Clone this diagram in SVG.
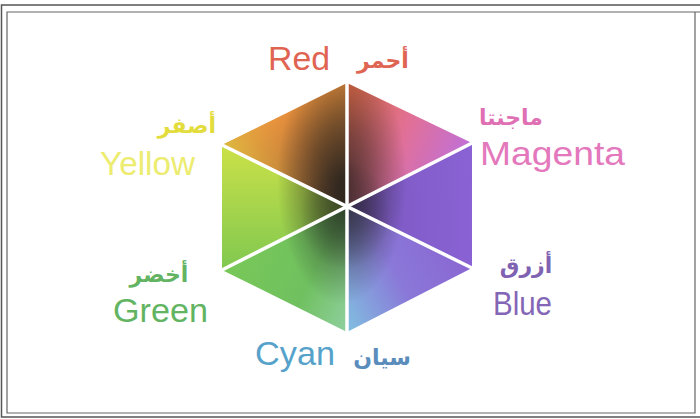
<svg xmlns="http://www.w3.org/2000/svg" width="700" height="419" viewBox="0 0 700 419">
<style>
.en{font-family:"Liberation Sans",Arial,sans-serif;font-size:34px;}
.ar{font-family:"DejaVu Sans","Noto Sans",sans-serif;font-weight:bold;font-size:22px;text-anchor:middle;}
.sep{stroke:#ffffff;stroke-width:3.5;stroke-linecap:round;}
</style>
<defs>
<linearGradient id="g1" x1="284" y1="114" x2="347" y2="207" gradientUnits="userSpaceOnUse"><stop offset="0" stop-color="#e8903c"/><stop offset="1" stop-color="#6a4a30"/></linearGradient>
<linearGradient id="g1b" x1="222" y1="145" x2="347" y2="83" gradientUnits="userSpaceOnUse"><stop offset="0" stop-color="#d8c040" stop-opacity="0.9"/><stop offset="0.6" stop-color="#e88a40" stop-opacity="0"/></linearGradient>
<linearGradient id="g2" x1="347" y1="83" x2="472" y2="143" gradientUnits="userSpaceOnUse"><stop offset="0" stop-color="#e06a40"/><stop offset="0.55" stop-color="#e0709a"/><stop offset="1" stop-color="#c070d8"/></linearGradient>
<linearGradient id="g3" x1="472" y1="205" x2="347" y2="207" gradientUnits="userSpaceOnUse"><stop offset="0" stop-color="#8a62d4"/><stop offset="1" stop-color="#7a58c0"/></linearGradient>
<linearGradient id="g4" x1="472" y1="268" x2="347" y2="332" gradientUnits="userSpaceOnUse"><stop offset="0" stop-color="#8a66d2"/><stop offset="0.5" stop-color="#8a78d8"/><stop offset="1" stop-color="#80c0e0"/></linearGradient>
<linearGradient id="g5" x1="347" y1="332" x2="222" y2="270" gradientUnits="userSpaceOnUse"><stop offset="0" stop-color="#90d0a0"/><stop offset="0.4" stop-color="#70c060"/><stop offset="1" stop-color="#78c858"/></linearGradient>
<linearGradient id="g6" x1="222" y1="150" x2="222" y2="270" gradientUnits="userSpaceOnUse"><stop offset="0" stop-color="#c8e048"/><stop offset="1" stop-color="#80c850"/></linearGradient>
<radialGradient id="dark" cx="0.5" cy="0.5" r="0.5"><stop offset="0" stop-color="#1a1a1a" stop-opacity="0.75"/><stop offset="0.45" stop-color="#1a1a1a" stop-opacity="0.45"/><stop offset="1" stop-color="#1a1a1a" stop-opacity="0"/></radialGradient>
<clipPath id="hexclip"><polygon points="347,83 472,143 472,268 347,332 222,270 222,145"/></clipPath>
</defs>
<g id="frame" fill="none">
<path d="M700,5 H1.5 V417 H700" stroke="#555" stroke-width="1.5"/>
<path d="M700,12 H7 V413 H695 V12" stroke="#666" stroke-width="1.2"/>
</g>
<g id="hexagon">
<polygon points="347,207 347,83 222,145" fill="url(#g1)"/>
<polygon points="347,207 347,83 222,145" fill="url(#g1b)"/>
<polygon points="347,207 347,83 472,143" fill="url(#g2)"/>
<polygon points="347,207 472,143 472,268" fill="url(#g3)"/>
<polygon points="347,207 472,268 347,332" fill="url(#g4)"/>
<polygon points="347,207 347,332 222,270" fill="url(#g5)"/>
<polygon points="347,207 222,270 222,145" fill="url(#g6)"/>
<g clip-path="url(#hexclip)">
<ellipse cx="342" cy="180" rx="65" ry="125" fill="url(#dark)"/>
<ellipse cx="345" cy="215" rx="45" ry="55" fill="url(#dark)" opacity="0.5"/>
</g>
</g>
<g id="connectors">
<line class="sep" x1="347" y1="81" x2="347" y2="334"/>
<line class="sep" x1="220" y1="144" x2="474" y2="269"/>
<line class="sep" x1="474" y1="142" x2="220" y2="271"/>
</g>
<g id="red">
<text class="en" x="268" y="70" fill="#e06452" textLength="62" lengthAdjust="spacingAndGlyphs">Red</text>
<text class="ar" x="383" y="68" fill="#e06452">أحمر</text>
</g>
<g id="yellow">
<text class="ar" x="187" y="133" fill="#e2dc3c">أصفر</text>
<text class="en" x="100" y="175" fill="#ecec70" textLength="95" lengthAdjust="spacingAndGlyphs">Yellow</text>
</g>
<g id="magenta">
<text class="ar" x="511" y="125" fill="#e070b4">ماجنتا</text>
<text class="en" x="480" y="165" fill="#e478bc" textLength="145" lengthAdjust="spacingAndGlyphs">Magenta</text>
</g>
<g id="green">
<text class="ar" x="159" y="282" fill="#62b462">أخضر</text>
<text class="en" x="113" y="322" fill="#62b462" textLength="95" lengthAdjust="spacingAndGlyphs">Green</text>
</g>
<g id="blue">
<text class="ar" x="526" y="273" fill="#8062b2">أزرق</text>
<text class="en" x="493" y="315" fill="#8466b6" textLength="59" lengthAdjust="spacingAndGlyphs">Blue</text>
</g>
<g id="cyan">
<text class="en" x="255" y="365" fill="#56a2ca" textLength="80" lengthAdjust="spacingAndGlyphs">Cyan</text>
<text class="ar" x="382" y="365" fill="#5a8cbc">سيان</text>
</g>
</svg>
